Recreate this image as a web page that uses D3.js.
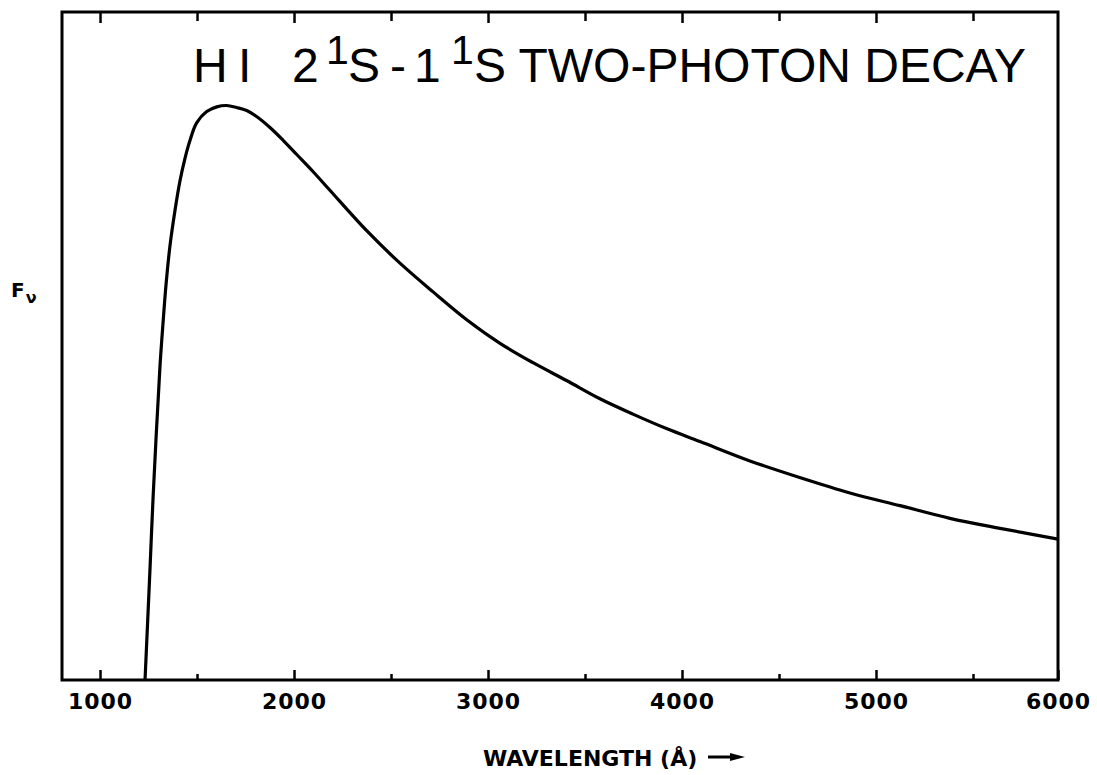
<!DOCTYPE html>
<html><head><meta charset="utf-8">
<script src="https://cdn.jsdelivr.net/npm/d3@7"></script>
<style>body{margin:0;background:#fff} svg{display:block}</style>
</head><body><svg id="c" width="1097" height="775"></svg>
<script>
// ---- data (wavelength in Å, F_nu in arbitrary units) ----
const wavelength = [1232,1258,1273,1309,1326,1340,1361,1387,1412,1438,1464,1498,1550,1602,1653,1704,1756,1807,1876,1945,2014,2100,2186,2376,2546,2717,2892,3062,3232,3407,3577,3747,3923,4093,4350,4608,4866,5124,5381,5659,6000];
const flux       = [0,16.9,27.0,46.9,53.9,59.1,65.1,70.4,74.7,78.1,80.8,83.4,85.1,85.8,86.0,85.7,85.25,84.36,82.71,80.76,78.67,76.05,73.28,67.22,62.4,58.1,53.9,50.4,47.5,44.8,42.1,39.8,37.6,35.7,32.8,30.3,28.0,26.1,24.2,22.7,21.1];
const majorTicks = [1000,2000,3000,4000,5000,6000];
const minorTicks = [1500,2500,3500,4500,5500];
const tickLabels = ["1000","2000","3000","4000","5000","6000"];
const xTitle = "WAVELENGTH (Å)";
const yTitle = "F";
const yTitleSub = "ν";

// ---- layout ----
const svg = d3.select("#c");
const L = 62, R = 1058, T = 12, B = 680;
// hand-drawn axis: slightly compressed last interval
const x = d3.scaleLinear().domain([804, 5500, 6000]).range([L, 973, R]);
const y = d3.scaleLinear().domain([0, 100]).range([B, T]);

const tickFont = "'DejaVu Sans', Verdana, sans-serif";

// bottom major ticks + labels
const gB = svg.append("g").attr("transform", `translate(0,${B})`)
  .call(d3.axisBottom(x).tickValues(majorTicks).tickSize(-10).tickPadding(13)
        .tickFormat((d,i) => tickLabels[i]));
gB.select(".domain").remove();
gB.selectAll(".tick line").attr("stroke", "#000").attr("stroke-width", 2.5);
gB.selectAll(".tick text").attr("font-family", tickFont).attr("font-weight", "bold")
  .attr("font-size", 22).attr("letter-spacing", 1).attr("fill", "#000");

// bottom minor ticks
const gBm = svg.append("g").attr("transform", `translate(0,${B})`)
  .call(d3.axisBottom(x).tickValues(minorTicks).tickSize(-6).tickFormat(""));
gBm.select(".domain").remove();
gBm.selectAll(".tick line").attr("stroke", "#000").attr("stroke-width", 2.5);

// top ticks
const gT = svg.append("g").attr("transform", `translate(0,${T})`)
  .call(d3.axisTop(x).tickValues(majorTicks.slice(0,5)).tickSize(-11).tickFormat(""));
gT.select(".domain").remove();
gT.selectAll(".tick line").attr("stroke", "#000").attr("stroke-width", 2.5);
const gTm = svg.append("g").attr("transform", `translate(0,${T})`)
  .call(d3.axisTop(x).tickValues(minorTicks).tickSize(-9).tickFormat(""));
gTm.select(".domain").remove();
gTm.selectAll(".tick line").attr("stroke", "#000").attr("stroke-width", 2.5);

// frame
svg.append("rect").attr("x", L).attr("y", T).attr("width", R - L).attr("height", B - T)
  .attr("fill", "none").attr("stroke", "#000").attr("stroke-width", 3);

// curve
const pts = wavelength.map((w, i) => [w, flux[i]]);
svg.append("path").datum(pts)
  .attr("d", d3.line().x(d => x(d[0])).y(d => y(d[1])).curve(d3.curveCatmullRom.alpha(0.5)))
  .attr("fill", "none").attr("stroke", "#000").attr("stroke-width", 3.2)
  .attr("stroke-linejoin", "round").attr("stroke-linecap", "butt");

// title
const titleParts = [
  {t: "H", x: 193, up: 0, s: 48}, {t: "I", x: 238, up: 0, s: 48}, {t: "2", x: 292, up: 0, s: 48},
  {t: "1", x: 326, up: 18, s: 41}, {t: "S", x: 348, up: 0, s: 48}, {t: "-", x: 390, up: 0, s: 48},
  {t: "1", x: 414, up: 0, s: 48}, {t: "1", x: 451, up: 18, s: 41}, {t: "S TWO-PHOTON DECAY", x: 474, up: 0, s: 48}
];
const title = svg.append("text").attr("font-family", "'Liberation Sans', Arial, sans-serif")
  .attr("fill", "#000").attr("xml:space", "preserve");
titleParts.forEach(p => {
  title.append("tspan").attr("x", p.x).attr("y", 82 - p.up).attr("font-size", p.s).text(p.t);
});

// y label F_nu
const yl = svg.append("text").attr("x", 11).attr("y", 297)
  .attr("font-family", tickFont).attr("font-weight", "bold").attr("font-size", 20).attr("fill", "#000");
yl.append("tspan").text(yTitle);
yl.append("tspan").attr("dx", 1).attr("dy", 6).attr("font-size", 16).text(yTitleSub);

// x label with arrow
svg.append("text").attr("x", 483).attr("y", 766)
  .attr("font-family", tickFont).attr("font-weight", "bold").attr("font-size", 22)
  .attr("fill", "#000").text(xTitle);
const ax = 708, ay = 757;
svg.append("path").attr("d", `M${ax},${ay}H${ax + 26}`).attr("stroke", "#000").attr("stroke-width", 3);
svg.append("path").attr("d", `M${ax + 22},${ay - 4}L${ax + 37},${ay}L${ax + 22},${ay + 4}Z`).attr("fill", "#000");
</script>
</body></html>
